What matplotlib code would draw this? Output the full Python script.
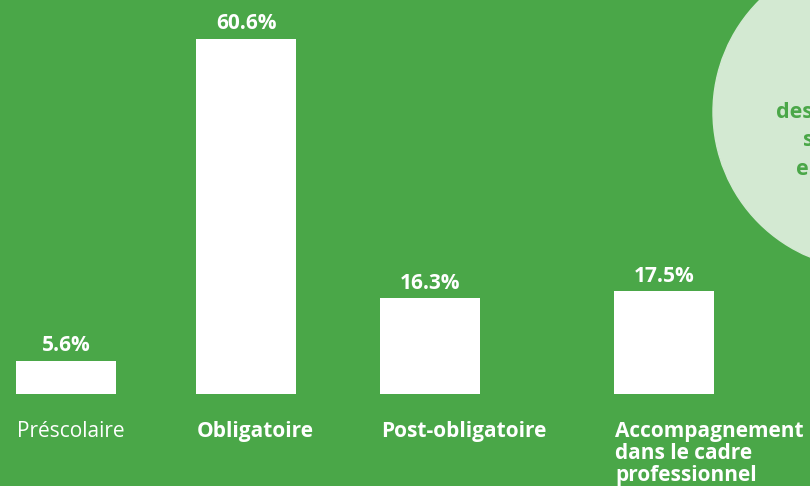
import matplotlib.pyplot as plt
from matplotlib.patches import Ellipse

# données
categories = ["Préscolaire", "Obligatoire", "Post-obligatoire",
              "Accompagnement\ndans le cadre\nprofessionnel"]
valeurs = [5.6, 60.6, 16.3, 17.5]
etiquettes = ["5.6%", "60.6%", "16.3%", "17.5%"]
gras = [False, True, True, True]

# mise en page (positions des barres, pas des données)
positions = [0, 1, 2.022, 3.322]
largeur = 0.556

vert = "#4aa748"
vert_clair = "#d3e9d2"
police = "Open Sans"

fig = plt.figure(figsize=(8.1, 4.86), dpi=100)
fig.patch.set_facecolor(vert)
ax = fig.add_axes([0, 0, 1, 1])
ax.set_facecolor(vert)
ax.set_xlim(-0.367, 4.133)
ax.set_ylim(-15.7, 67.2)
ax.axis("off")

bars = ax.bar(positions, valeurs, width=largeur, color="white")

# valeurs au-dessus des barres
for b, txt in zip(bars, etiquettes):
    ax.annotate(txt, (b.get_x() + b.get_width() / 2, b.get_height()),
                xytext=(0, 3.5), textcoords="offset points",
                ha="center", va="bottom", color="white",
                fontsize=15, fontweight="bold", family=police)

# noms des catégories
for b, cat, g in zip(bars, categories, gras):
    ax.text(b.get_x() + 0.005, -4.6, cat, ha="left", va="top",
            color="white", fontsize=15, family=police,
            fontweight="bold" if g else "normal", linespacing=1.06)

# cercle à droite (coupé par le bord)
fig.patches.append(Ellipse((870 / 810, 1 - 112 / 486), 2 * 157 / 810,
                           2 * 157 / 486, transform=fig.transFigure,
                           color=vert_clair, zorder=0))

for txt, x, y in [("des", 776, 113), ("s", 803, 141), ("e", 796, 169)]:
    fig.text(x / 810, 1 - y / 486, txt, ha="left", va="center",
             color=vert, fontsize=15.5, fontweight="bold", family=police)

fig.savefig("out.png", dpi=100, facecolor=vert)
